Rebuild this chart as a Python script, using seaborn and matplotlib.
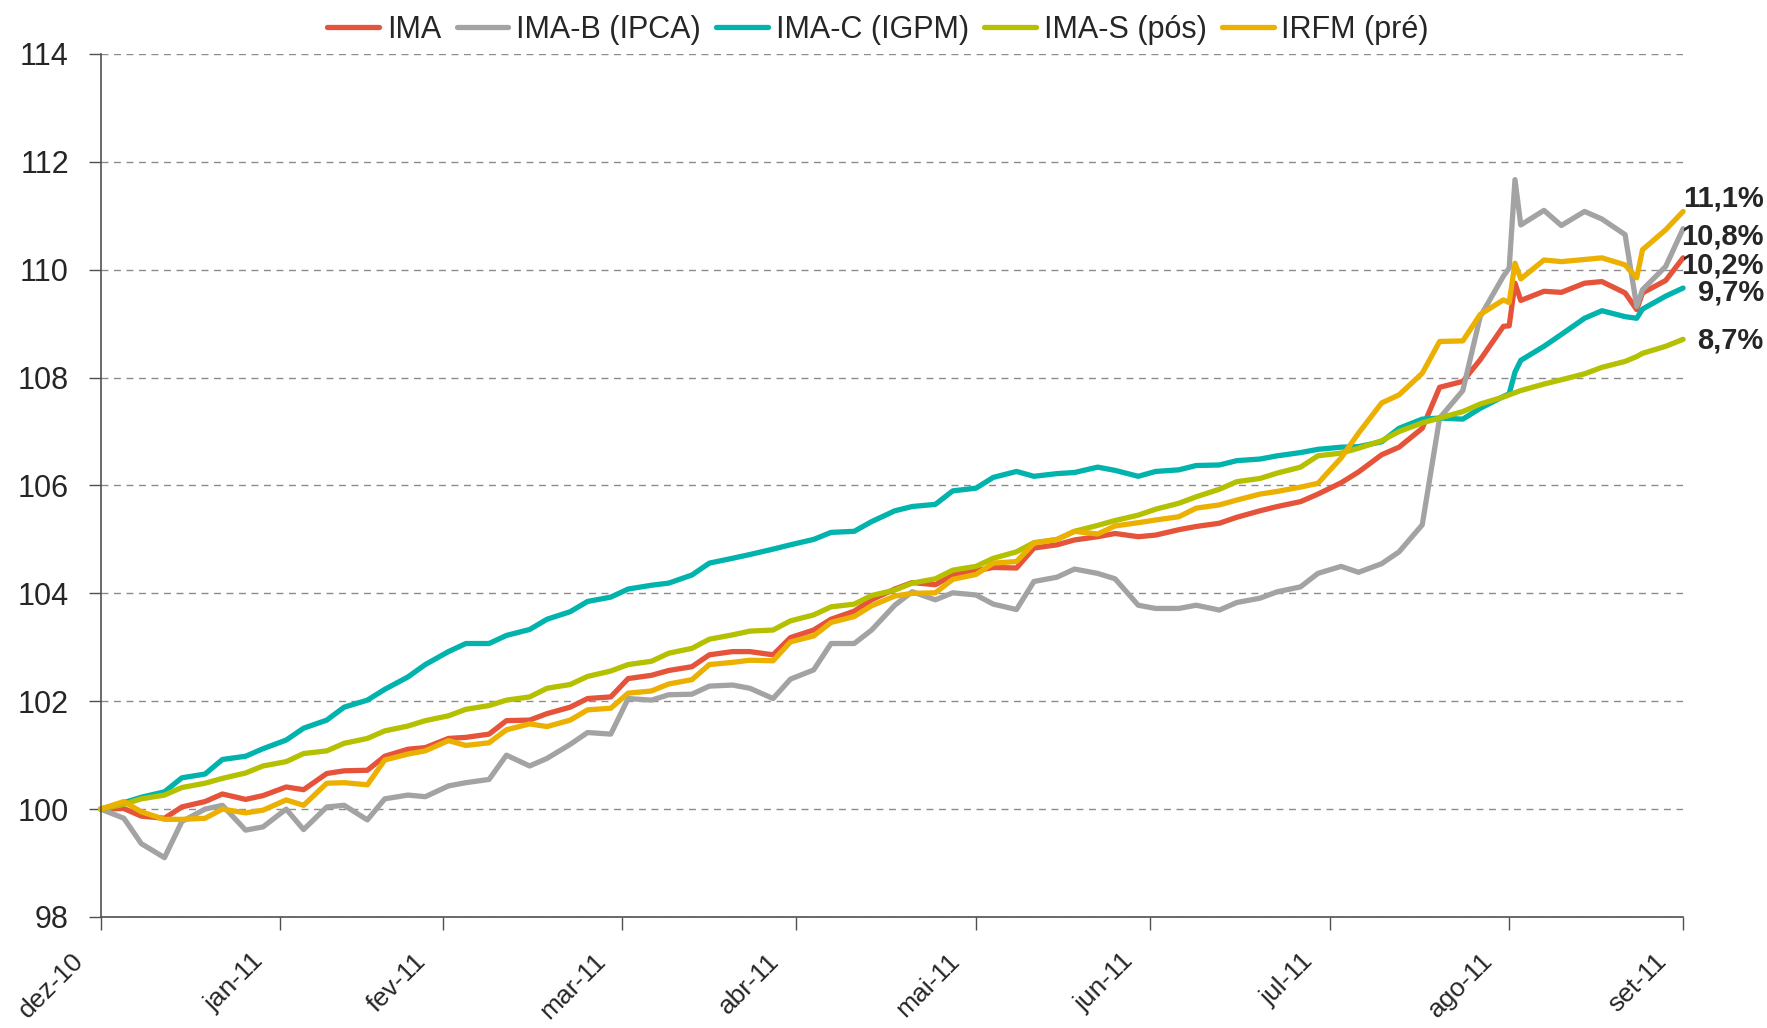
import pandas as pd
import matplotlib.pyplot as plt
import matplotlib.transforms as mtransforms
import seaborn as sns

# datas (dias uteis, amostra)
dates = [
    "2010-12-31", "2011-01-04", "2011-01-07", "2011-01-11", "2011-01-14", "2011-01-18",
    "2011-01-21", "2011-01-25", "2011-01-28", "2011-02-01", "2011-02-04", "2011-02-08",
    "2011-02-11", "2011-02-15", "2011-02-18", "2011-02-22", "2011-02-25", "2011-03-01",
    "2011-03-04", "2011-03-08", "2011-03-11", "2011-03-15", "2011-03-18", "2011-03-22",
    "2011-03-25", "2011-03-29", "2011-04-01", "2011-04-05", "2011-04-08", "2011-04-12",
    "2011-04-15", "2011-04-19", "2011-04-22", "2011-04-26", "2011-04-29", "2011-05-03",
    "2011-05-06", "2011-05-10", "2011-05-13", "2011-05-17", "2011-05-20", "2011-05-24",
    "2011-05-27", "2011-05-31", "2011-06-03", "2011-06-07", "2011-06-10", "2011-06-14",
    "2011-06-17", "2011-06-21", "2011-06-24", "2011-06-28", "2011-07-01", "2011-07-05",
    "2011-07-08", "2011-07-12", "2011-07-15", "2011-07-19", "2011-07-22", "2011-07-26",
    "2011-07-29", "2011-08-02", "2011-08-05", "2011-08-09", "2011-08-12", "2011-08-16",
    "2011-08-19", "2011-08-23", "2011-08-26", "2011-08-30", "2011-08-31", "2011-09-01",
    "2011-09-02", "2011-09-06", "2011-09-09", "2011-09-13", "2011-09-16", "2011-09-20",
    "2011-09-22", "2011-09-23", "2011-09-27", "2011-09-30",
]

ima = [
    100.00, 100.01, 99.87, 99.83, 100.04, 100.14, 100.28, 100.18, 100.25, 100.41,
    100.36, 100.66, 100.71, 100.72, 100.98, 101.11, 101.14, 101.31, 101.33, 101.39,
    101.64, 101.65, 101.77, 101.89, 102.05, 102.08, 102.42, 102.48, 102.57, 102.64,
    102.86, 102.92, 102.92, 102.86, 103.18, 103.32, 103.52, 103.67, 103.88, 104.08,
    104.20, 104.16, 104.34, 104.42, 104.48, 104.47, 104.84, 104.90, 104.99, 105.05,
    105.11, 105.05, 105.08, 105.18, 105.24, 105.30, 105.41, 105.53, 105.61, 105.70,
    105.84, 106.05, 106.25, 106.57, 106.71, 107.06, 107.82, 107.93, 108.33, 108.95,
    108.96, 109.75, 109.43, 109.60, 109.58, 109.75, 109.78, 109.57, 109.26, 109.57,
    109.80, 110.22,
]

ima_b = [
    100.00, 99.83, 99.36, 99.10, 99.77, 100.00, 100.07, 99.61, 99.67, 100.00,
    99.62, 100.04, 100.07, 99.80, 100.19, 100.26, 100.23, 100.43, 100.49, 100.55,
    101.00, 100.80, 100.94, 101.20, 101.42, 101.39, 102.05, 102.02, 102.12, 102.13,
    102.28, 102.30, 102.24, 102.05, 102.41, 102.58, 103.07, 103.07, 103.32, 103.78,
    104.03, 103.88, 104.01, 103.97, 103.80, 103.70, 104.22, 104.30, 104.45, 104.37,
    104.27, 103.78, 103.72, 103.72, 103.78, 103.69, 103.83, 103.91, 104.03, 104.12,
    104.37, 104.50, 104.39, 104.55, 104.77, 105.27, 107.25, 107.76, 109.13, 109.88,
    110.03, 111.67, 110.83, 111.10, 110.82, 111.08, 110.94, 110.65, 109.32, 109.63,
    110.06, 110.76,
]

ima_c = [
    100.00, 100.12, 100.22, 100.32, 100.58, 100.65, 100.92, 100.98, 101.12, 101.28,
    101.50, 101.65, 101.89, 102.02, 102.22, 102.45, 102.68, 102.92, 103.07, 103.07,
    103.22, 103.33, 103.52, 103.66, 103.85, 103.93, 104.08, 104.15, 104.19, 104.34,
    104.56, 104.65, 104.72, 104.82, 104.90, 105.00, 105.13, 105.15, 105.33, 105.53,
    105.61, 105.65, 105.90, 105.95, 106.15, 106.26, 106.17, 106.22, 106.24, 106.34,
    106.28, 106.17, 106.26, 106.29, 106.37, 106.38, 106.46, 106.49, 106.55, 106.61,
    106.67, 106.71, 106.72, 106.81, 107.06, 107.23, 107.25, 107.23, 107.43, 107.65,
    107.70, 108.10, 108.32, 108.58, 108.80, 109.10, 109.24, 109.13, 109.10, 109.27,
    109.51, 109.66,
]

ima_s = [
    100.00, 100.09, 100.19, 100.26, 100.40, 100.48, 100.57, 100.67, 100.80, 100.88,
    101.03, 101.08, 101.22, 101.31, 101.45, 101.54, 101.64, 101.73, 101.85, 101.92,
    102.02, 102.08, 102.24, 102.31, 102.46, 102.56, 102.68, 102.74, 102.89, 102.98,
    103.15, 103.23, 103.30, 103.32, 103.49, 103.60, 103.75, 103.80, 103.96, 104.06,
    104.19, 104.27, 104.43, 104.50, 104.65, 104.77, 104.94, 105.00, 105.15, 105.26,
    105.35, 105.45, 105.56, 105.67, 105.79, 105.93, 106.07, 106.13, 106.23, 106.34,
    106.55, 106.60, 106.69, 106.83, 107.00, 107.16, 107.25, 107.37, 107.51, 107.64,
    107.68, 107.72, 107.76, 107.88, 107.96, 108.07, 108.19, 108.30, 108.39, 108.45,
    108.58, 108.71,
]

irfm = [
    100.00, 100.14, 99.95, 99.81, 99.81, 99.83, 100.00, 99.93, 99.98, 100.17,
    100.07, 100.48, 100.49, 100.45, 100.91, 101.02, 101.08, 101.27, 101.18, 101.23,
    101.47, 101.58, 101.53, 101.65, 101.84, 101.87, 102.15, 102.19, 102.32, 102.40,
    102.68, 102.72, 102.76, 102.75, 103.10, 103.21, 103.46, 103.57, 103.77, 103.95,
    104.00, 104.01, 104.26, 104.35, 104.56, 104.59, 104.93, 105.00, 105.15, 105.10,
    105.25, 105.31, 105.36, 105.42, 105.58, 105.64, 105.73, 105.84, 105.89, 105.97,
    106.04, 106.51, 106.97, 107.53, 107.68, 108.08, 108.67, 108.68, 109.17, 109.44,
    109.39, 110.12, 109.83, 110.18, 110.15, 110.19, 110.22, 110.09, 109.85, 110.37,
    110.74, 111.08,
]

series_names = ["IMA", "IMA-B (IPCA)", "IMA-C (IGPM)", "IMA-S (pós)", "IRFM (pré)"]
colors = ["#E5533A", "#A3A3A3", "#00B3AD", "#B4C000", "#ECB000"]

month_ends = ["2010-12-31", "2011-01-31", "2011-02-28", "2011-03-31", "2011-04-30",
              "2011-05-31", "2011-06-30", "2011-07-31", "2011-08-31", "2011-09-30"]
month_labels = ["dez-10", "jan-11", "fev-11", "mar-11", "abr-11",
                "mai-11", "jun-11", "jul-11", "ago-11", "set-11"]

sns.set_style("ticks")
plt.rcParams["font.family"] = ["Liberation Sans", "DejaVu Sans"]

df = pd.DataFrame({"data": pd.to_datetime(dates), "IMA": ima, "IMA-B (IPCA)": ima_b,
                   "IMA-C (IGPM)": ima_c, "IMA-S (pós)": ima_s, "IRFM (pré)": irfm})
long_df = df.melt(id_vars="data", var_name="indice", value_name="valor")

fig = plt.figure(figsize=(17.67, 10.28), dpi=100)
ax = fig.add_axes([0.057, 0.108, 0.8955, 0.8395])

sns.lineplot(data=long_df, x="data", y="valor", hue="indice", hue_order=series_names,
             palette=colors, linewidth=3.8, ax=ax, legend=False)
for line in ax.lines:
    line.set_clip_on(False)
    line.set_solid_joinstyle("round")

ax.set_ylim(98, 114)
ax.set_yticks(range(98, 115, 2))
ax.set_xlim(pd.Timestamp("2010-12-31"), pd.Timestamp("2011-09-30"))
ax.set_xticks(pd.to_datetime(month_ends))
ax.set_xticklabels(month_labels, rotation=45, ha="right", va="top")
ax.set_xlabel("")
ax.set_ylabel("")

ax.yaxis.grid(True, linestyle=(0, (5, 4)), color="#8c8c8c", linewidth=1)
ax.set_axisbelow(True)
sns.despine(ax=ax)
for side in ["left", "bottom"]:
    ax.spines[side].set_color("#505050")
    ax.spines[side].set_linewidth(1.2)
ax.tick_params(axis="y", length=9, width=1, color="#505050", pad=14, labelsize=22)
ax.tick_params(axis="x", length=9, width=1, color="#505050", pad=14, labelsize=19)

# desloca os rotulos do eixo x um pouco para a esquerda do tick
shift = mtransforms.ScaledTranslation(-0.12, 0, fig.dpi_scale_trans)
for lbl in ax.get_xticklabels():
    lbl.set_transform(lbl.get_transform() + shift)

# rotulos de rentabilidade no fim das linhas
label_y = [110.07, 110.61, 109.57, 108.68, 111.32]
for vals, y in zip([ima, ima_b, ima_c, ima_s, irfm], label_y):
    txt = f"{vals[-1] - 100:.1f}%".replace(".", ",")
    ax.text(1.051, y, txt, transform=ax.get_yaxis_transform(), ha="right", va="center",
            fontsize=21, fontweight="bold")

fig.legend(ax.lines[:5], series_names, ncol=5, loc="upper center",
           bbox_to_anchor=(0.497, 1.012), frameon=False, fontsize=22,
           handlelength=1.7, handletextpad=0.25, columnspacing=0.5)

fig.savefig("out.png", dpi=100)
